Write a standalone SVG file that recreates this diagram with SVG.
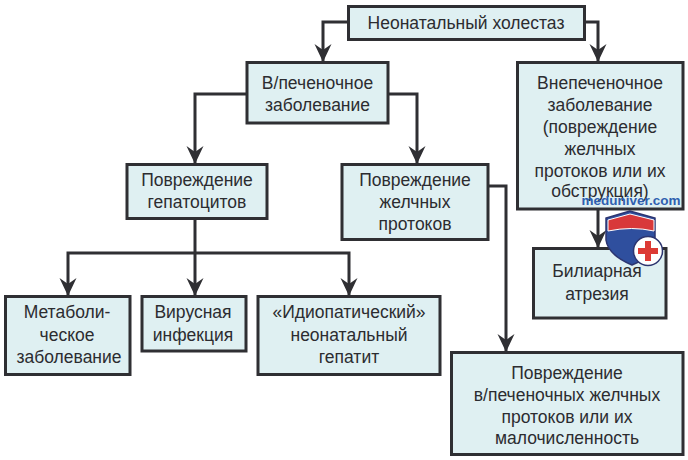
<svg xmlns="http://www.w3.org/2000/svg" width="688" height="460" viewBox="0 0 688 460">
<style>
.b{fill:#dff0f2;stroke:#2f2f33;stroke-width:3}
.t{font-family:"Liberation Sans",Arial,sans-serif;font-size:17.5px;fill:#2c2c30;text-anchor:middle}
.c{fill:none;stroke:#2f2f33;stroke-width:3}
</style>
<defs><marker id="a" markerUnits="userSpaceOnUse" markerWidth="18" markerHeight="20" refX="8.5" refY="19" orient="auto-start-reverse" viewBox="0 0 17 20"><path d="M0 3L8.5 8L17 3L8.5 20Z" fill="#2f2f33" transform="rotate(0)"/></marker>
<marker id="d" markerUnits="userSpaceOnUse" markerWidth="18" markerHeight="20" refX="17" refY="8.5" orient="auto" viewBox="0 0 18 17"><path d="M0 0L6 8.5L0 17L18 8.5Z" fill="#2f2f33"/></marker></defs>
<rect width="688" height="460" fill="#fff"/>
<g id="connectors">
<path class="c" marker-end="url(#d)" d="M348 22H323V61"/>
<path class="c" marker-end="url(#d)" d="M584 22H598V61"/>
<path class="c" marker-end="url(#d)" d="M247 94H195V163"/>
<path class="c" marker-end="url(#d)" d="M388 94H417V163"/>
<path class="c" marker-end="url(#d)" d="M195 218V295"/>
<path class="c" marker-end="url(#d)" d="M195 253H68V295"/>
<path class="c" marker-end="url(#d)" d="M195 253H349V295"/>
<path class="c" marker-end="url(#d)" d="M598 209V247"/>
<path class="c" marker-end="url(#d)" d="M488 186H506V351"/>
</g>
<g id="n1"><rect class="b" x="348.500" y="6.500" width="236" height="33"/><text class="t" x="466" y="29">Неонатальный холестаз</text></g>
<g id="n2"><rect class="b" x="247" y="62.500" width="141" height="60.500"/><text class="t" x="317.500" y="89">В/печеночное</text><text class="t" x="317.500" y="111">заболевание</text></g>
<g id="n3"><rect class="b" x="517.500" y="62.500" width="165.500" height="146.500"/><text class="t" x="600" y="89">Внепеченочное</text><text class="t" x="600" y="111">заболевание</text><text class="t" x="600" y="133">(повреждение</text><text class="t" x="600" y="155">желчных</text><text class="t" x="600" y="177">протоков или их</text><text class="t" x="600" y="197">обструкция)</text></g>
<g id="n4"><rect class="b" x="127" y="164.500" width="140" height="54"/><text class="t" x="197" y="186">Повреждение</text><text class="t" x="197" y="208">гепатоцитов</text></g>
<g id="n5"><rect class="b" x="342" y="164.500" width="146" height="75"/><text class="t" x="415" y="186">Повреждение</text><text class="t" x="415" y="208">желчных</text><text class="t" x="415" y="230">протоков</text></g>
<g id="n6"><rect class="b" x="533.500" y="248.500" width="132.500" height="69.500"/><text class="t" x="597" y="277">Билиарная</text><text class="t" x="597" y="300">атрезия</text></g>
<g id="n7"><rect class="b" x="5.500" y="296.500" width="124.500" height="78"/><text class="t" x="67" y="318">Метаболи-</text><text class="t" x="67" y="341">ческое</text><text class="t" x="69" y="363">заболевание</text></g>
<g id="n8"><rect class="b" x="142" y="296.500" width="104" height="54.500"/><text class="t" x="193" y="318">Вирусная</text><text class="t" x="193" y="341">инфекция</text></g>
<g id="n9"><rect class="b" x="258" y="296.500" width="182" height="78"/><text class="t" x="349" y="318">«Идиопатический»</text><text class="t" x="349" y="341">неонатальный</text><text class="t" x="349" y="363">гепатит</text></g>
<g id="n10"><rect class="b" x="451.500" y="352.500" width="231.500" height="102"/><text class="t" x="567" y="379">Повреждение</text><text class="t" x="567" y="401">в/печеночных желчных</text><text class="t" x="567" y="423">протоков или их</text><text class="t" x="567" y="444">малочисленность</text></g>
<g id="watermark">
<text x="631" y="205" font-family="'Liberation Sans',Arial,sans-serif" font-size="13.500" font-weight="bold" fill="#2f5fb0" text-anchor="middle">meduniver.com</text>
<path d="M630 211L606 218V240Q608 255 632 265Q650 258 655 245V218Z" fill="#2f4f9e" stroke="#2c3570" stroke-width="1.500"/>
<path d="M630 214L608 220V231Q632 226 654 231V220Z" fill="#d8383a" stroke="#fff" stroke-width="1"/>
<circle cx="648" cy="251" r="14.500" fill="#fff" stroke="#2c3570" stroke-width="1.500"/>
<path d="M645 241H651V248H658V254H651V261H645V254H638V248H645Z" fill="#dc3a35"/>
</g>
</svg>
